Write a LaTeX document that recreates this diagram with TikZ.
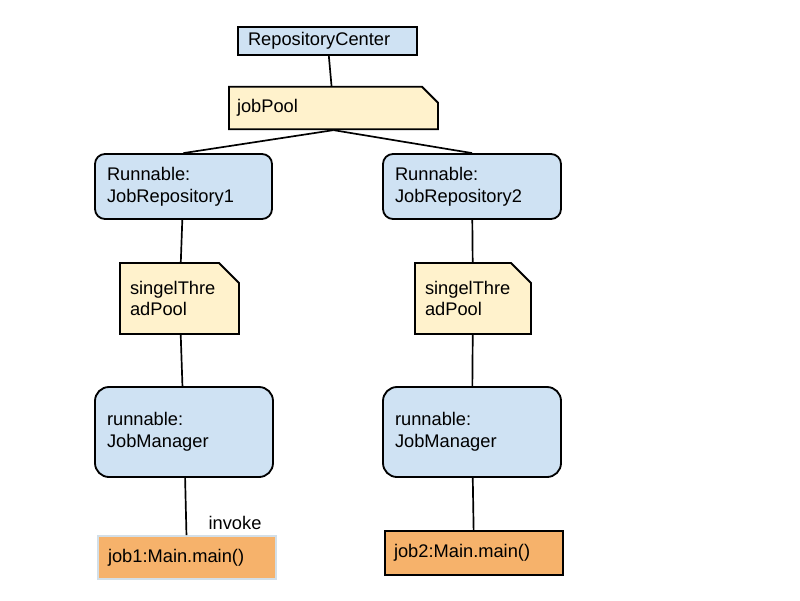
\documentclass[tikz,border=0pt]{standalone}
\usepackage{fontspec}
\setmainfont{Liberation Sans}
\usetikzlibrary{shapes.misc}

\definecolor{boxblue}{HTML}{CFE2F3}
\definecolor{noteyellow}{HTML}{FFF2CC}
\definecolor{joborange}{HTML}{F6B26B}
\definecolor{paleedge}{HTML}{D3DFE8}

\newdimen\pxu
\pxu=0.025cm

\begin{document}
\begin{tikzpicture}[x=0.025cm, y=-0.025cm,
    font=\fontsize{13}{15.4}\selectfont,
    box/.style={draw=black, line width=1.3pt, fill=boxblue, align=left},
    note/.style={draw=black, line width=1.3pt, fill=noteyellow, align=left, inner xsep=0pt,
        chamfered rectangle, chamfered rectangle corners=north east},
    job/.style={draw=black, line width=1.3pt, fill=joborange, align=left},
    link/.style={line width=1.2pt}]
                % Fix the page size
                \useasboundingbox (0,0) rectangle (800,600);

                % Top of the tree
                \node[box, inner xsep=10\pxu, text width=159\pxu, minimum height=28\pxu] (center) at (327.5,41) {RepositoryCenter};
                \node[note, text width=193\pxu, minimum height=40\pxu,
                    chamfered rectangle xsep=8\pxu, chamfered rectangle ysep=8\pxu] (jobpool) at (333.5,108) {jobPool};

                % Two job repositories
                \node[box, rounded corners=10\pxu, inner xsep=12\pxu, text width=153\pxu, minimum height=65\pxu] (repo1) at (183.5,186.5) {Runnable:\\JobRepository1};
                \node[box, rounded corners=10\pxu, inner xsep=12\pxu, text width=154\pxu, minimum height=65\pxu] (repo2) at (472,186.5) {Runnable:\\JobRepository2};

                % Single thread pools
                \node[note, text width=99\pxu, minimum height=71\pxu,
                    chamfered rectangle xsep=10\pxu, chamfered rectangle ysep=10\pxu] (pool1) at (179.5,298.5) {singelThre\\adPool};
                \node[note, text width=96\pxu, minimum height=71\pxu,
                    chamfered rectangle xsep=10\pxu, chamfered rectangle ysep=10\pxu] (pool2) at (473,298.5) {singelThre\\adPool};

                % Job managers
                \node[box, rounded corners=14\pxu, inner xsep=12\pxu, text width=154\pxu, minimum height=90\pxu] (manager1) at (184,432) {runnable:\\JobManager};
                \node[box, rounded corners=14\pxu, inner xsep=12\pxu, text width=154\pxu, minimum height=90\pxu] (manager2) at (472,432) {runnable:\\JobManager};

                % Jobs
                \node[job, draw=paleedge, inner xsep=10\pxu, text width=158\pxu, minimum height=43\pxu] (job1) at (187,557.5) {job1:Main.main()};
                \node[job, inner xsep=9\pxu, text width=160\pxu, minimum height=44\pxu] (job2) at (474,553) {job2:Main.main()};

                % Connectors
                \draw[link] (center) -- (jobpool);
                \draw[link] (jobpool.south) -- (repo1.north);
                \draw[link] (jobpool.south) -- (repo2.north);
                \draw[link] (repo1) -- (pool1);
                \draw[link] (repo2) -- (pool2);
                \draw[link] (pool1) -- (manager1);
                \draw[link] (pool2) -- (manager2);
                \draw[link] (manager1) -- (job1);
                \draw[link] (manager2) -- (job2);

                % Call label
                \node (invoke) at (235,523) {invoke};
\end{tikzpicture}
\end{document}
